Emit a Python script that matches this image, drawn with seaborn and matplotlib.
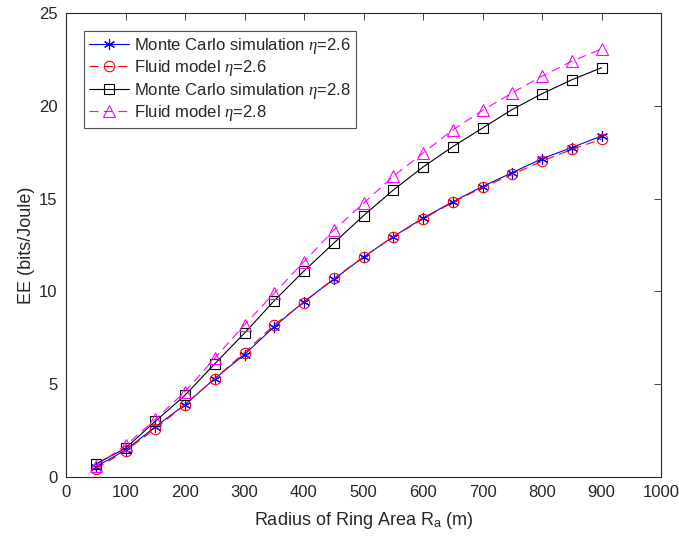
import matplotlib
matplotlib.use("Agg")
import matplotlib.pyplot as plt
import seaborn as sns
import numpy as np

radius = [50, 100, 150, 200, 250, 300, 350, 400, 450, 500, 550, 600, 650, 700, 750, 800, 850, 900]
mc_26 = [0.55, 1.45, 2.7, 3.9, 5.3, 6.6, 8.1, 9.45, 10.65, 11.85, 12.95, 13.95, 14.83, 15.65, 16.4, 17.15, 17.75, 18.37]
fluid_26 = [0.45, 1.4, 2.6, 3.9, 5.3, 6.7, 8.2, 9.4, 10.7, 11.85, 12.95, 13.9, 14.8, 15.6, 16.3, 17.02, 17.65, 18.2]
mc_28 = [0.7, 1.55, 3.0, 4.4, 6.1, 7.75, 9.5, 11.1, 12.6, 14.08, 15.46, 16.7, 17.8, 18.8, 19.8, 20.65, 21.4, 22.05]
fluid_28 = [0.6, 1.7, 3.1, 4.6, 6.4, 8.2, 9.9, 11.6, 13.3, 14.75, 16.2, 17.45, 18.7, 19.75, 20.7, 21.6, 22.4, 23.06]

labels = [r"Monte Carlo simulation $\eta$=2.6", r"Fluid model $\eta$=2.6",
          r"Monte Carlo simulation $\eta$=2.8", r"Fluid model $\eta$=2.8"]

sns.set_style("white")
plt.rcParams["font.family"] = ["Liberation Sans", "DejaVu Sans"]
plt.rcParams["mathtext.fontset"] = "custom"
plt.rcParams["mathtext.rm"] = "Liberation Sans"
plt.rcParams["mathtext.it"] = "Liberation Serif:italic"

fig = plt.figure(figsize=(6.79, 5.41), dpi=100)
ax = fig.add_axes([66/679, 1-477/541, (661-66)/679, (477-13)/541])

axcol = (0.15, 0.15, 0.15)
styles = [
    dict(color=(0, 0, 1), ls="-", marker=(6, 2, 0), ms=8, mfc="none", mec=(0, 0, 1), mew=0.8),
    dict(color=(1, 0, 0), ls=(0, (8, 5)), marker="o", ms=7.5, mfc="none", mec=(1, 0, 0), mew=0.8),
    dict(color="black", ls="-", marker="s", ms=7, mfc="none", mec="black", mew=0.8),
    dict(color=(1, 0, 1), ls=(0, (8, 5)), marker="^", ms=8.5, mfc="none", mec=(1, 0, 1), mew=0.8),
]
series = [mc_26, fluid_26, mc_28, fluid_28]
for ys, lab, st in zip(series, labels, styles):
    sns.lineplot(x=radius, y=ys, ax=ax, label=lab, lw=0.8, **st)

ax.set_xlim(0, 1000)
ax.set_ylim(0, 25)
ax.set_xticks(np.arange(0, 1001, 100))
ax.set_yticks(np.arange(0, 26, 5))
ax.tick_params(direction="in", top=True, right=True, length=5, width=0.6,
               labelsize=12, colors=axcol, pad=6)
ax.tick_params(axis="both", labelcolor=axcol)
for sp in ax.spines.values():
    sp.set_color(axcol)
    sp.set_linewidth(0.8)
ax.set_xlabel(r"Radius of Ring Area R$_\mathregular{a}$ (m)", fontsize=13, color=axcol, labelpad=7)
ax.set_ylabel("EE (bits/Joule)", fontsize=13, color=axcol, labelpad=3)

leg = ax.legend(loc="upper left", bbox_to_anchor=(0.030, 0.962), fontsize=12,
                frameon=True, fancybox=False, edgecolor=axcol, handlelength=2.4,
                handletextpad=0.3, borderpad=0.3, labelspacing=0.15, borderaxespad=0)
leg.get_frame().set_linewidth(0.8)

fig.savefig("out.png", dpi=100)
